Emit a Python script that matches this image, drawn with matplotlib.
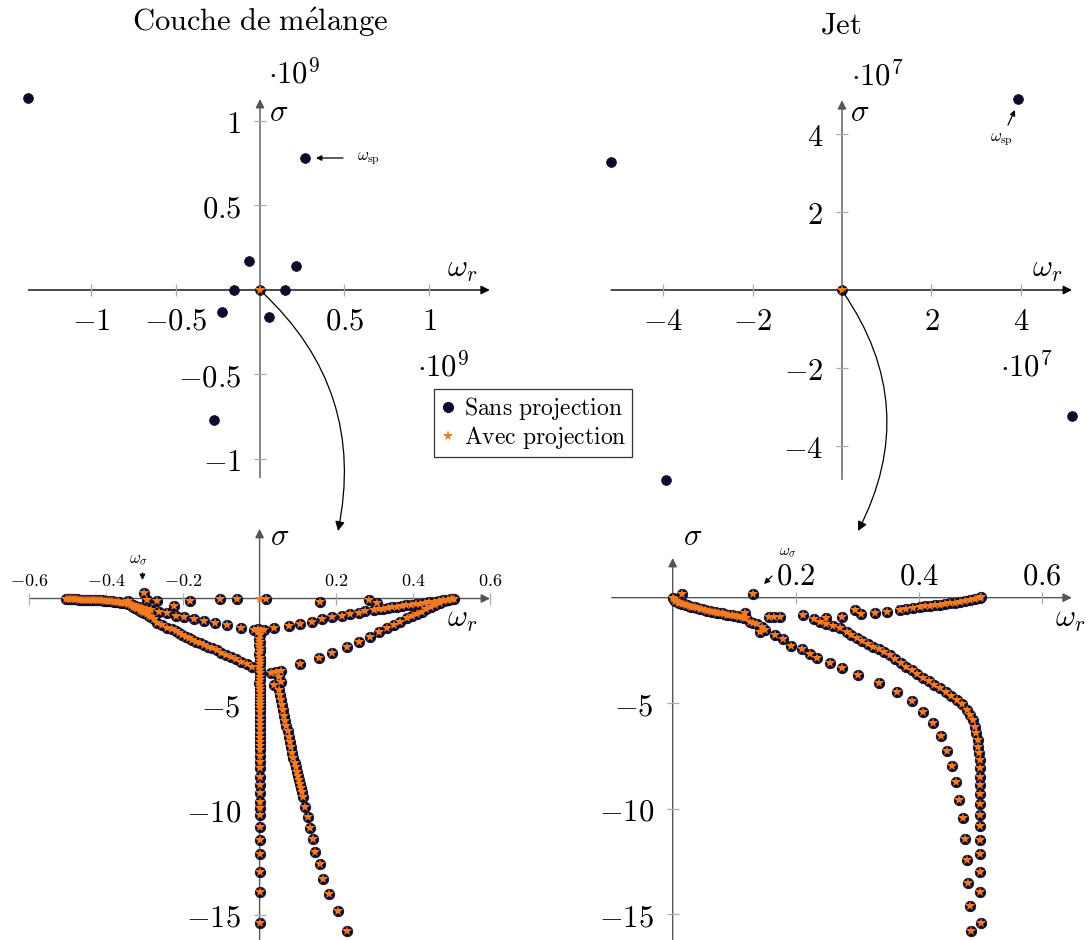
import numpy as np
import matplotlib
matplotlib.use("Agg")
import matplotlib.pyplot as plt
from matplotlib.patches import FancyArrowPatch
from matplotlib.lines import Line2D

# ---------------- data ----------------
# Top-left: "Couche de mélange", full spectrum (units of 1e9)
ml_full_wr = [-1.37, 0.266, -0.065, 0.213, -0.154, 0.148, 0.0, -0.225, 0.053, -0.272]
ml_full_s = [1.136, 0.781, 0.172, 0.142, 0.0, 0.0, 0.0, -0.130, -0.160, -0.769]
ml_full_proj_wr = [0.0]
ml_full_proj_s = [0.0]

# Top-right: "Jet", full spectrum (units of 1e7)
jet_full_wr = [-5.16, 3.94, -3.94, 5.14, 0.0]
jet_full_s = [3.28, 4.91, -4.88, -3.24, 0.0]
jet_full_proj_wr = [0.0]
jet_full_proj_s = [0.0]

# Bottom-left: mixing layer, zoom near the origin
ml_iso_wr = [-0.300, -0.292, -0.268, -0.342, -0.224, -0.181, -0.103, -0.060, 0.016, 0.158, 0.284, 0.305]
ml_iso_s = [0.25, -0.07, -0.12, -0.12, -0.34, -0.12, -0.04, -0.04, -0.04, -0.15, -0.07, -0.23]
ml_a0_wr = [-0.505, -0.500, -0.495, -0.490, -0.485, -0.480, -0.475, -0.470, -0.465, -0.460, -0.455,
            -0.450, -0.445, -0.440, -0.435, -0.430, -0.425, -0.420, -0.415, -0.410, -0.405, -0.400,
            -0.395, -0.390, -0.385, -0.380, -0.375, -0.370, -0.365, -0.360, -0.355, -0.350]
ml_a0_s = [0.00, -0.01, -0.02, -0.03, -0.03, -0.04, -0.04, -0.05, -0.05, -0.05, -0.06,
           -0.06, -0.06, -0.07, -0.07, -0.07, -0.08, -0.08, -0.08, -0.09, -0.10, -0.11,
           -0.12, -0.13, -0.14, -0.15, -0.16, -0.17, -0.18, -0.20, -0.21, -0.23]
ml_a1_wr = [-0.340, -0.335, -0.330, -0.325, -0.320, -0.315, -0.310, -0.305, -0.300, -0.292, -0.283,
            -0.262, -0.240, -0.218, -0.197, -0.172, -0.145, -0.117, -0.084, -0.049, -0.015]
ml_a1_s = [-0.26, -0.29, -0.32, -0.35, -0.38, -0.41, -0.44, -0.46, -0.49, -0.52, -0.55,
           -0.62, -0.70, -0.81, -0.89, -0.97, -1.05, -1.15, -1.26, -1.38, -1.51]
ml_a2_wr = [-0.342, -0.336, -0.330, -0.324, -0.318, -0.312, -0.306, -0.300, -0.294, -0.288, -0.282,
            -0.274, -0.266, -0.253, -0.240, -0.229, -0.218, -0.210, -0.201, -0.192, -0.184, -0.175,
            -0.166, -0.156, -0.145, -0.134, -0.123, -0.112, -0.101, -0.088, -0.075, -0.062, -0.049,
            -0.034, -0.019]
ml_a2_s = [-0.27, -0.33, -0.39, -0.45, -0.51, -0.57, -0.63, -0.69, -0.75, -0.81, -0.88,
           -0.98, -1.16, -1.27, -1.38, -1.46, -1.54, -1.63, -1.73, -1.81, -1.89, -1.97,
           -2.05, -2.12, -2.20, -2.28, -2.36, -2.46, -2.57, -2.66, -2.76, -2.88, -3.00,
           -3.12, -3.23]
ml_col_wr = [-0.005, 0.004, -0.003, 0.002, -0.002, 0.001, -0.001, 0.001, 0.000, -0.001, 0.001,
             0.000, 0.000, -0.001, 0.001, 0.000, 0.000, 0.000, -0.001, 0.001, 0.000, 0.000,
             0.000, 0.000, 0.000, 0.000, 0.000, 0.000, 0.000, 0.000, 0.000, 0.000, 0.000,
             0.000, 0.000, 0.000, 0.000, 0.000, 0.000, 0.000, 0.000, 0.000, 0.000, 0.000,
             0.000, 0.000, 0.000, 0.000, 0.000, 0.000, 0.000]
ml_col_s = [-1.45, -1.47, -1.60, -1.75, -1.90, -2.05, -2.20, -2.35, -2.50, -2.65, -2.80,
            -2.95, -3.10, -3.25, -3.40, -3.55, -3.70, -3.85, -4.00, -4.15, -4.30, -4.45,
            -4.60, -4.75, -4.90, -5.05, -5.20, -5.40, -5.60, -5.80, -6.00, -6.20, -6.40,
            -6.60, -6.80, -7.00, -7.20, -7.45, -7.73, -8.05, -8.45, -8.84, -9.23, -9.63,
            -9.94, -10.26, -10.81, -11.45, -12.11, -12.95, -13.90]
ml_col2_wr = [0.000]
ml_col2_s = [-15.39]
ml_b_wr = [0.029, 0.042, 0.055, 0.050, 0.055, 0.037, 0.050, 0.052, 0.055, 0.058, 0.061, 0.064, 0.067,
           0.070, 0.073, 0.076, 0.079, 0.082, 0.085, 0.088, 0.091, 0.094, 0.097, 0.100, 0.103, 0.106,
           0.109, 0.111, 0.114, 0.119, 0.125, 0.132, 0.138, 0.145, 0.158, 0.165, 0.180, 0.204, 0.228]
ml_b_s = [-3.55, -3.47, -3.44, -3.70, -3.94, -4.10, -4.34, -4.55, -4.80, -5.05, -5.30, -5.55, -5.80,
          -6.05, -6.30, -6.55, -6.80, -7.05, -7.30, -7.55, -7.80, -8.00, -8.20, -8.40, -8.60, -8.80,
          -9.00, -9.15, -9.42, -9.90, -10.34, -10.86, -11.41, -12.00, -12.60, -13.28, -13.99, -14.80, -15.74]
ml_c_wr = [0.011, 0.037, 0.076, 0.106, 0.137, 0.163, 0.189, 0.215, 0.236, 0.258, 0.275, 0.297, 0.310,
           0.322, 0.334, 0.346, 0.358, 0.370, 0.382, 0.394, 0.406, 0.418, 0.430, 0.442, 0.454, 0.466,
           0.478, 0.490, 0.500, 0.505]
ml_c_s = [-1.49, -1.38, -1.29, -1.21, -1.10, -0.99, -0.89, -0.81, -0.75, -0.67, -0.59, -0.55, -0.51,
          -0.48, -0.45, -0.42, -0.39, -0.36, -0.33, -0.30, -0.27, -0.24, -0.21, -0.18, -0.15, -0.12,
          -0.09, -0.06, -0.03, 0.00]
ml_d_wr = [0.106, 0.154, 0.189, 0.228, 0.258, 0.288, 0.310, 0.332, 0.349, 0.366, 0.384, 0.398, 0.410,
           0.422, 0.434, 0.446, 0.458, 0.470, 0.480, 0.490, 0.498]
ml_d_s = [-3.10, -2.84, -2.57, -2.28, -2.05, -1.81, -1.60, -1.41, -1.26, -1.10, -0.94, -0.82, -0.72,
          -0.62, -0.52, -0.42, -0.32, -0.22, -0.14, -0.07, -0.02]
ml_proj_extra_wr = [0.0]
ml_proj_extra_s = [0.0]

# Bottom-right: jet, zoom near the origin
jet_iso_wr = [0.131, 0.015, 0.157, 0.164, 0.174]
jet_iso_s = [0.16, 0.16, -0.93, -0.93, -0.93]
jet_e_wr = [0.000, 0.002, 0.004, 0.006, 0.008, 0.010, 0.012, 0.015, 0.018, 0.021, 0.024, 0.027, 0.030,
            0.033, 0.036, 0.040, 0.044, 0.048, 0.052, 0.056, 0.060, 0.064, 0.068, 0.072, 0.076, 0.080,
            0.084, 0.088, 0.092, 0.096, 0.100, 0.104, 0.108, 0.112, 0.116, 0.120, 0.118, 0.126, 0.131,
            0.137, 0.142, 0.145, 0.150, 0.166, 0.180, 0.193, 0.210, 0.223, 0.234, 0.256, 0.276, 0.302,
            0.336, 0.364, 0.389, 0.407, 0.424, 0.436, 0.446, 0.455, 0.461, 0.466, 0.472, 0.475, 0.478,
            0.480, 0.483, 0.485]
jet_e_s = [0.00, -0.08, -0.14, -0.18, -0.21, -0.23, -0.25, -0.28, -0.31, -0.34, -0.37, -0.40, -0.42,
           -0.44, -0.46, -0.49, -0.52, -0.55, -0.58, -0.61, -0.63, -0.66, -0.68, -0.71, -0.73, -0.75,
           -0.78, -0.80, -0.82, -0.84, -0.86, -0.88, -0.90, -0.93, -0.95, -0.98, -0.74, -1.14, -1.20,
           -1.26, -1.61, -1.37, -1.53, -1.77, -1.97, -2.29, -2.45, -2.68, -2.84, -3.11, -3.35, -3.66,
           -4.06, -4.45, -4.88, -5.40, -5.95, -6.55, -7.25, -7.96, -8.72, -9.59, -10.46, -11.45, -12.43,
           -13.50, -14.61, -15.78]
jet_f_wr = [0.212, 0.229, 0.240, 0.250, 0.260, 0.272, 0.283, 0.290, 0.299, 0.308, 0.317, 0.326, 0.335,
            0.344, 0.353, 0.362, 0.371, 0.380, 0.389, 0.398, 0.407, 0.416, 0.425, 0.435, 0.444, 0.453,
            0.462, 0.470, 0.478, 0.484, 0.489, 0.492, 0.494, 0.496, 0.497, 0.498, 0.499, 0.500, 0.500,
            0.500, 0.500, 0.500, 0.500, 0.500, 0.500, 0.500, 0.500, 0.500, 0.502]
jet_f_s = [-0.82, -1.02, -1.15, -1.25, -1.35, -1.45, -1.61, -1.75, -1.92, -2.05, -2.18, -2.32, -2.45,
           -2.58, -2.72, -2.90, -3.09, -3.27, -3.45, -3.64, -3.82, -3.97, -4.13, -4.29, -4.48, -4.66,
           -4.85, -5.05, -5.32, -5.55, -5.80, -6.11, -6.43, -6.75, -7.06, -7.38, -7.69, -8.09, -8.48,
           -8.88, -9.31, -9.78, -10.30, -10.84, -11.48, -12.16, -13.00, -13.95, -15.43]
jet_g_wr = [0.250, 0.275, 0.296, 0.307, 0.329, 0.348, 0.369, 0.380, 0.391, 0.402, 0.410, 0.418, 0.426,
            0.435, 0.443, 0.451, 0.459, 0.467, 0.475, 0.483, 0.491, 0.500, 0.502]
jet_g_s = [-0.98, -0.93, -0.58, -0.78, -0.74, -0.66, -0.58, -0.55, -0.50, -0.43, -0.41, -0.40, -0.37,
           -0.35, -0.31, -0.27, -0.23, -0.19, -0.15, -0.11, -0.07, -0.03, 0.02]

titles = [r"$\mathrm{Couche\ de\ m\acute{e}lange}$", r"$\mathrm{Jet}$"]
legend_labels = [r"$\mathrm{Sans\ projection}$", r"$\mathrm{Avec\ projection}$"]

# ---------------- style ----------------
W, H = 1091, 940
plt.rcParams["mathtext.fontset"] = "cm"
plt.rcParams["font.family"] = ["DejaVu Serif"]
DARK = "#0c0b2e"
ORANGE = "#f47b20"
TICKC = "#aaaaaa"

fig = plt.figure(figsize=(W / 100, H / 100), dpi=100)


def ftext(px, py, s, size=22, ha="center", va="center"):
    fig.text(px / W, 1 - py / H, s, fontsize=size, ha=ha, va=va)


def farrow(p0, p1, rad=0.0, ms=12, lw=0.9):
    a = FancyArrowPatch((p0[0] / W, 1 - p0[1] / H), (p1[0] / W, 1 - p1[1] / H),
                        transform=fig.transFigure, arrowstyle="-|>", mutation_scale=ms,
                        connectionstyle=f"arc3,rad={rad}", lw=lw, color="k",
                        shrinkA=0, shrinkB=0)
    fig.add_artist(a)


def fmt(v):
    s = f"{v:g}"
    return "$" + s + "$"


def panel(box, xlim, ylim, xticks, yticks, xtop=False, xsize=22, xpad=7, xcol="k", ycol="#555555"):
    l, r, t, b = box
    ax = fig.add_axes([l / W, 1 - b / H, (r - l) / W, (b - t) / H])
    ax.patch.set_alpha(0)
    for k in ["bottom", "top", "left", "right"]:
        ax.spines[k].set_position(("data", 0))
    ax.set_xlim(xlim)
    ax.set_ylim(ylim)
    ax.set_xticks(xticks, labels=[fmt(v) for v in xticks])
    ax.set_yticks(yticks, labels=[fmt(v) for v in yticks])
    ax.tick_params(axis="both", direction="inout", length=9, width=0.9, color=TICKC)
    ax.tick_params(axis="y", labelsize=22, pad=9, left=True, right=False)
    if xtop:
        ax.tick_params(axis="x", top=True, bottom=False, labeltop=True, labelbottom=False,
                       labelsize=xsize, pad=xpad)
    else:
        ax.tick_params(axis="x", labelsize=xsize, pad=xpad)
    for s in ax.spines.values():
        s.set_visible(False)
    ax.annotate("", xy=(xlim[1], 0), xytext=(xlim[0], 0),
                arrowprops=dict(arrowstyle="-|>", color=xcol, lw=1.0, mutation_scale=13,
                                shrinkA=0, shrinkB=0), annotation_clip=False, zorder=1)
    ax.annotate("", xy=(0, ylim[1]), xytext=(0, ylim[0]),
                arrowprops=dict(arrowstyle="-|>", color=ycol, lw=1.0, mutation_scale=13,
                                shrinkA=0, shrinkB=0), annotation_clip=False, zorder=1)
    return ax


def pts(ax, wr, s, wr_p, s_p, ms_o=7.0, ms_s=8.0):
    ax.plot(wr, s, "o", ms=ms_o, color=DARK, mec=DARK, mew=0.6, clip_on=False, zorder=3)
    ax.plot(wr_p, s_p, "*", ms=ms_s, color=ORANGE, mew=0, clip_on=False, zorder=4)


# ---- top-left ----
ax1 = panel((28.5, 489.8, 99, 477.6), (-1.37, 1.36), (-1.11, 1.13),
            [-1, -0.5, 0.5, 1], [-1, -0.5, 0.5, 1])
pts(ax1, ml_full_wr, ml_full_s, ml_full_proj_wr, ml_full_proj_s, ms_o=7.0, ms_s=8.5)

# ---- top-right ----
ax2 = panel((611.1, 1072, 100.2, 479.4), (-5.16, 5.14), (-4.87, 4.88),
            [-4, -2, 2, 4], [-4, -2, 2, 4])
pts(ax2, jet_full_wr, jet_full_s, jet_full_proj_wr, jet_full_proj_s, ms_o=7.0, ms_s=8.5)

# ---- bottom-left ----
ax3 = panel((29.2, 490, 528.9, 940.3), (-0.597, 0.6), (-16.2, 3.3),
            [-0.6, -0.4, -0.2, 0.2, 0.4, 0.6], [-15, -10, -5], xtop=True, xsize=13, xpad=1.5,
            xcol="#555555")
ml_wr = np.concatenate([ml_iso_wr, ml_a0_wr, ml_a1_wr, ml_a2_wr, ml_col_wr, ml_col2_wr, ml_b_wr, ml_c_wr, ml_d_wr])
ml_s = np.concatenate([ml_iso_s, ml_a0_s, ml_a1_s, ml_a2_s, ml_col_s, ml_col2_s, ml_b_s, ml_c_s, ml_d_s])
pts(ax3, ml_wr, ml_s, np.concatenate([ml_wr, ml_proj_extra_wr]),
    np.concatenate([ml_s, ml_proj_extra_s]), ms_o=7.5, ms_s=7.5)

# ---- bottom-right ----
ax4 = panel((611.8, 1071.8, 558, 939.5), (-0.099, 0.649), (-16.2, 1.88),
            [0.2, 0.4, 0.6], [-15, -10, -5], xtop=True, xsize=22, xpad=0, xcol="#555555")
jet_wr = np.concatenate([jet_iso_wr, jet_e_wr, jet_f_wr, jet_g_wr])
jet_s = np.concatenate([jet_iso_s, jet_e_s, jet_f_s, jet_g_s])
pts(ax4, jet_wr, jet_s, jet_wr, jet_s, ms_o=7.5, ms_s=7.5)

# ---- texts ----
ftext(260, 22, titles[0], size=22)
ftext(841, 25, titles[1], size=22)
for (x, y) in [(279, 113), (860, 113), (280, 537), (693, 537)]:
    ftext(x, y, r"$\sigma$", size=22)
for (x, y) in [(462, 268), (1047, 268), (462, 618), (1070, 618)]:
    ftext(x, y, r"$\omega_r$", size=22)
ftext(294, 75, r"$\cdot 10^9$", size=22)
ftext(443, 368, r"$\cdot 10^9$", size=22)
ftext(877, 77, r"$\cdot 10^7$", size=22)
ftext(1026, 368, r"$\cdot 10^7$", size=22)

# annotations
ftext(369, 159, r"$\omega_{\rm sp}$", size=12)
farrow((343, 158), (316, 158), ms=8)
ftext(1002, 140, r"$\omega_{\rm sp}$", size=12)
farrow((1008, 125), (1015, 110), ms=8)
ftext(138, 559, r"$\omega_{\sigma}$", size=12)
farrow((142.5, 573), (142.5, 580), ms=8)
ftext(788, 552, r"$\omega_{\sigma}$", size=11)
farrow((772, 576), (764, 584), ms=8)

# curved connectors
farrow((262, 292), (338, 531), rad=-0.28, ms=14)
farrow((843, 292), (858, 531), rad=-0.30, ms=14)

# legend
handles = [Line2D([], [], ls="", marker="o", ms=7, color=DARK),
           Line2D([], [], ls="", marker="*", ms=8, color=ORANGE, mew=0)]
leg = fig.legend(handles, legend_labels, loc="upper left",
                 bbox_to_anchor=(434 / W, 1 - 389 / H), fontsize=17, frameon=True,
                 fancybox=False, edgecolor="k", borderpad=0.25, labelspacing=0.1,
                 handlelength=0.7, handletextpad=0.3, borderaxespad=0)
leg.get_frame().set_linewidth(0.9)

fig.savefig("out.png", dpi=100)
